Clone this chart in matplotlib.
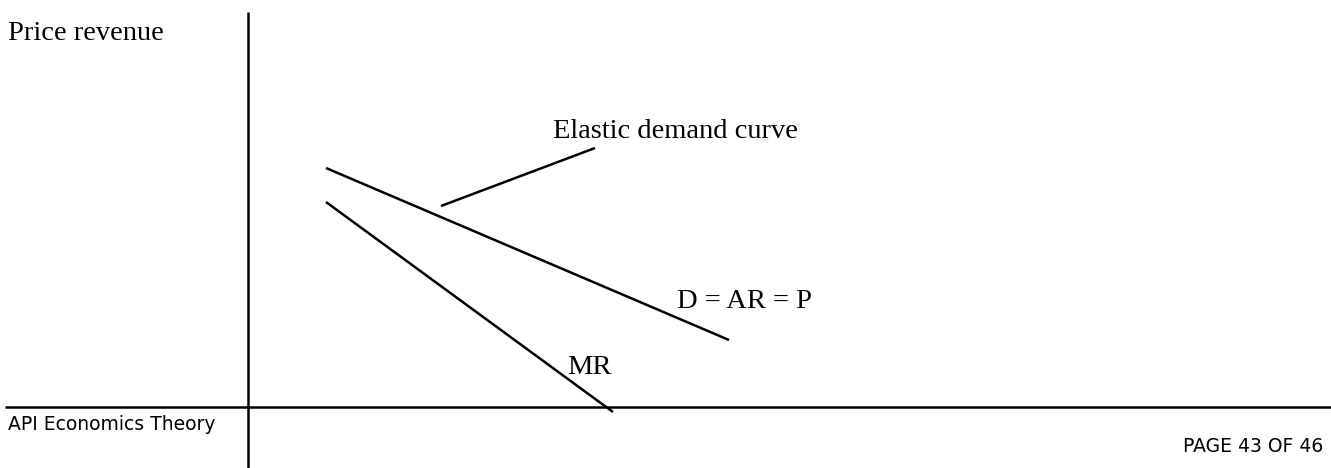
import matplotlib
matplotlib.use("Agg")
import matplotlib.pyplot as plt

# coordenadas en pixeles de la pagina (y hacia abajo)
eje_y = [(248, 248), (12, 468)]
eje_x = [(5, 1331), (407, 407)]
curva_d = [(326, 729), (168, 340)]
curva_mr = [(326, 613), (202, 412)]
linea_guia = [(441, 595), (206, 148)]

etiquetas = ["Price revenue", "Elastic demand curve", "D = AR = P", "MR"]
pos_etiquetas = [(8, 33), (553, 132), (677, 302), (567, 368)]

pie_izq = "API Economics Theory"
pie_der = "PAGE 43 OF 46"


def main():
    fig = plt.figure(figsize=(13.31, 4.68), dpi=100)
    ax = fig.add_axes([0, 0, 1, 1])
    ax.set_xlim(0, 1331)
    ax.set_ylim(468, 0)
    ax.axis("off")

    for xs, ys in [eje_y, eje_x, curva_d, curva_mr, linea_guia]:
        ax.plot(xs, ys, color="black", lw=1.8, solid_capstyle="butt")

    for txt, (x, y) in zip(etiquetas, pos_etiquetas):
        ax.text(x, y, txt, family="Liberation Serif", fontsize=20.5,
                ha="left", va="center", color="black")

    ax.text(8, 424, pie_izq, family="DejaVu Sans", fontsize=13.5,
            ha="left", va="center", color="black")
    ax.text(1323, 447, pie_der, family="DejaVu Sans", fontsize=13.5,
            ha="right", va="center", color="black")

    fig.savefig("out.png", dpi=100, facecolor="white")


if __name__ == '__main__':
    main()
